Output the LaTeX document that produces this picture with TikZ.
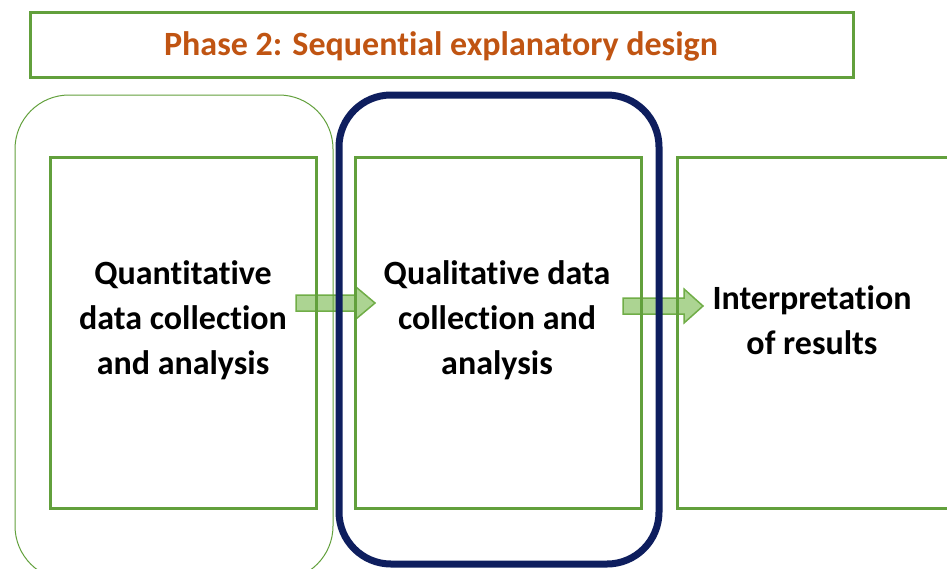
\documentclass[tikz,border=0pt]{standalone}
\usepackage{fontspec}
\setmainfont[Ligatures=NoCommon]{Carlito}
\definecolor{boxgreen}{RGB}{98,160,60}
\definecolor{navy}{RGB}{14,30,94}
\definecolor{titlecol}{RGB}{192,84,18}
\definecolor{arrfill}{RGB}{172,212,146}
\definecolor{arrline}{RGB}{112,173,71}
\begin{document}
\begin{tikzpicture}[x=1pt,y=-1pt,
  greenbox/.style={draw=boxgreen,line width=3pt},
  bodytext/.style={font=\bfseries\fontsize{34}{45}\selectfont,align=center,text=black},
  blockarrow/.style={fill=arrfill,draw=arrline,line width=1.5pt,line join=miter}]
\useasboundingbox (0,0) rectangle (947,568);
\clip (0,0) rectangle (947,568);
% title
\draw[greenbox] (30,12) rectangle (853,77);
\node[font=\bfseries\fontsize{34}{40}\selectfont,text=titlecol] (title) at (441,46) {Phase 2: Sequential explanatory design};
% arrows (behind boxes)
\fill[blockarrow] (296,295) -- (356,295) -- (356,287) -- (375,303) -- (356,319) -- (356,311) -- (296,311) -- cycle;
\fill[blockarrow] (623,298) -- (684,298) -- (684,289) -- (703,306) -- (684,323) -- (684,314) -- (623,314) -- cycle;
% outer rounded frames
\draw[draw=boxgreen,line width=1pt,rounded corners=54pt] (15,95) rectangle (333,580);
\draw[draw=navy,line width=7pt,rounded corners=52pt] (339,95) rectangle (659,564);
% inner boxes
\draw[greenbox] (50,157) rectangle (316,508);
\draw[greenbox] (355,157) rectangle (641,508);
\draw[greenbox] (677,157) rectangle (990,508);
% texts
\node[bodytext] (t1) at (183,320) {Quantitative\\data collection\\and analysis};
\node[bodytext] (t2) at (497,320) {Qualitative data\\collection and\\analysis};
\node[bodytext] (t3) at (812,320) {Interpretation\\of results};
\end{tikzpicture}
\end{document}
